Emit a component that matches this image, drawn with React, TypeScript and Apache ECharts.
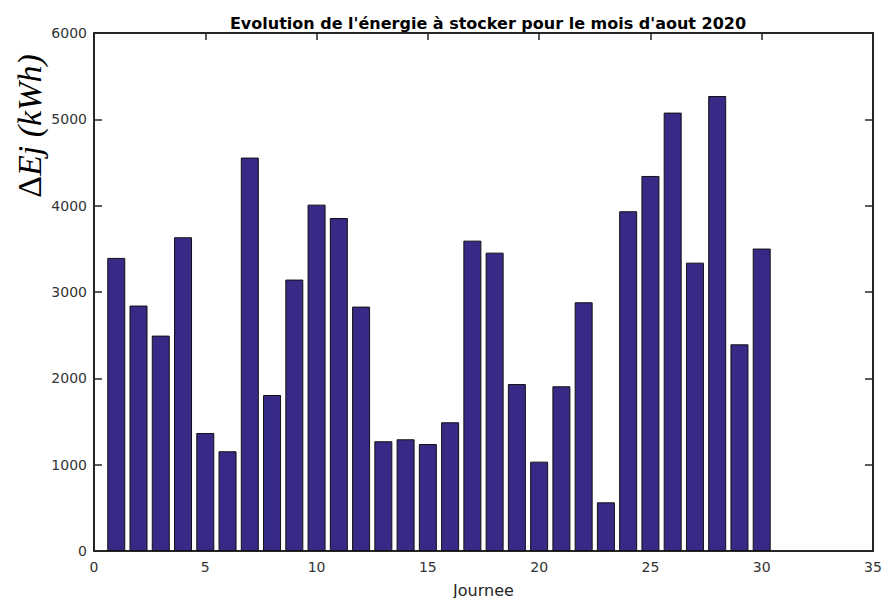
import React, { useEffect, useRef } from "react";
import * as echarts from "echarts";

const days = [1,2,3,4,5,6,7,8,9,10,11,12,13,14,15,16,17,18,19,20,21,22,23,24,25,26,27,28,29,30];
const energy = [3395,2843,2495,3634,1367,1155,4557,1807,3144,4012,3857,2831,1271,1294,1239,1491,3595,3456,1934,1035,1908,2881,564,3935,4344,5078,3340,5270,2394,3503];
const titleText = "Evolution de l'énergie à stocker pour le mois d'aout 2020";
const xName = "Journee";

export default function App() {
  const ref = useRef<HTMLDivElement>(null);
  useEffect(() => {
    if (!ref.current) return;
    const chart = echarts.init(ref.current, null, { renderer: "svg" });
    const axisColor = "#262626";
    const axisLine = { show: true, onZero: false, lineStyle: { color: axisColor, width: 2 } };
    const font = "DejaVu Sans, Verdana, sans-serif";
    const labelStyle = { color: "#333", fontSize: 14, fontFamily: font };
    const tick = (len: number) => ({ show: true, inside: true, length: len, lineStyle: { color: axisColor, width: 1.5 } });
    chart.setOption({
      animation: false,
      backgroundColor: "#fff",
      title: {
        text: titleText,
        left: 483,
        top: 10,
        textAlign: "center",
        textStyle: { fontSize: 16, fontWeight: "bold", color: "#000", fontFamily: font },
      },
      grid: { left: 94, right: 10, top: 33, bottom: 47, containLabel: false, outerBoundsMode: "none" },
      xAxis: [
        {
          type: "value",
          min: 0,
          max: 35,
          interval: 5,
          position: "bottom",
          axisLine,
          axisTick: tick(7),
          axisLabel: { ...labelStyle, margin: 9 },
          splitLine: { show: false },
          name: xName,
          nameLocation: "middle",
          nameGap: 31,
          nameTextStyle: { fontSize: 16, color: "#262626", fontFamily: font },
        },
        {
          type: "value",
          min: 0,
          max: 35,
          interval: 5,
          position: "top",
          axisLine,
          axisTick: tick(7),
          axisLabel: { show: false },
          splitLine: { show: false },
        },
      ],
      yAxis: [
        {
          type: "value",
          min: 0,
          max: 6000,
          interval: 1000,
          position: "left",
          axisLine,
          axisTick: tick(8),
          axisLabel: { ...labelStyle, margin: 7, formatter: (v: number) => String(v) },
          splitLine: { show: false },
        },
        {
          type: "value",
          min: 0,
          max: 6000,
          interval: 1000,
          position: "right",
          axisLine,
          axisTick: tick(8),
          axisLabel: { show: false },
          splitLine: { show: false },
        },
      ],
      graphic: [
        {
          type: "text",
          x: 29,
          y: 126,
          rotation: Math.PI / 2,
          style: {
            text: "{a|Δ}{b|Ej (kWh)}",
            align: "center",
            verticalAlign: "middle",
            rich: {
              a: { fontSize: 34, fontFamily: "Liberation Serif, DejaVu Serif, serif", fill: "#000" },
              b: { fontSize: 34, fontStyle: "italic", fontFamily: "Liberation Serif, DejaVu Serif, serif", fill: "#000" },
            },
          },
        },
      ],
      series: [
        {
          type: "bar",
          xAxisIndex: 0,
          yAxisIndex: 0,
          barWidth: 18,
          data: days.map((d, i) => [d, energy[i]]),
          itemStyle: { color: "#362A86", borderColor: "#111", borderWidth: 1 },
        },
      ],
    });
    return () => chart.dispose();
  }, []);
  return <div ref={ref} style={{ width: 883, height: 598, position: "absolute", left: 0, top: 0 }} />;
}
